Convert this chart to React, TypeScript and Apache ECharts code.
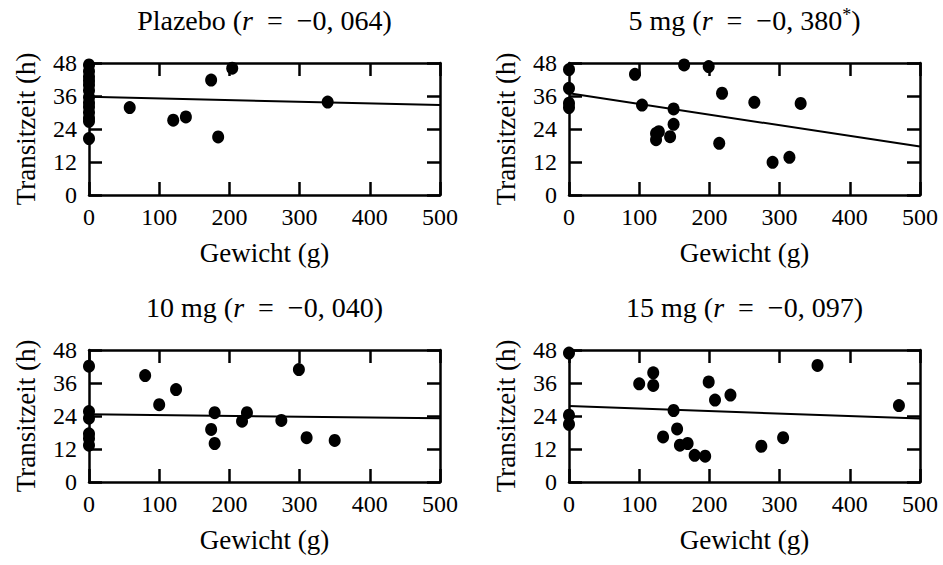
import React, { useEffect, useRef } from "react";
import * as echarts from "echarts";

const FONT = "Liberation Serif";

const panelNames = ["Plazebo", "5 mg", "10 mg", "15 mg"];
const rValues = ["−0, 064", "−0, 380", "−0, 040", "−0, 097"];
const significant = [false, true, false, false];

const xAxisName = "Gewicht (g)";
const yAxisName = "Transitzeit (h)";
const xMin = 0, xMax = 500, xStep = 100;
const yMin = 0, yMax = 48, yStep = 12;

const plazeboPoints: number[][] = [
  [0, 47.3], [0, 45], [0, 43], [0, 41.5], [0, 40], [0, 38], [0, 35.5], [0, 33.5],
  [0, 32], [0, 30], [0, 28], [0, 26.8], [0, 20.5],
  [58, 31.8], [120, 27.2], [138, 28.4], [174, 41.8], [184, 21.1], [204, 46.1], [340, 33.8],
];
const mg5Points: number[][] = [
  [0, 45.6], [0, 38.8], [0, 33.4], [0, 31.8],
  [94, 43.9], [104, 32.7], [124, 22.4], [124, 20.1], [128, 23.0], [144, 21.2],
  [149, 31.3], [149, 25.7], [164, 47.3], [199, 46.7], [214, 18.8], [218, 37.0],
  [264, 33.7], [290, 11.9], [314, 13.7], [330, 33.3],
];
const mg10Points: number[][] = [
  [0, 42.1], [0, 25.6], [0, 23.2], [0, 17.5], [0, 15.8], [0, 13.4],
  [80, 38.7], [100, 28.1], [124, 33.6], [174, 19.1], [179, 25.2], [179, 14.0],
  [218, 22.1], [225, 25.2], [274, 22.4], [299, 40.9], [310, 16.1], [350, 15.1],
];
const mg15Points: number[][] = [
  [0, 46.9], [0, 24.3], [0, 21.0],
  [100, 35.7], [120, 39.7], [120, 35.1], [134, 16.4], [149, 26.0], [154, 19.3],
  [158, 13.4], [169, 14.0], [179, 9.7], [194, 9.4], [199, 36.4], [208, 29.8],
  [230, 31.6], [274, 13.0], [305, 16.1], [354, 42.4], [470, 27.8],
];
const allPoints = [plazeboPoints, mg5Points, mg10Points, mg15Points];

const fitPlazebo = [[0, 35.7], [500, 32.7]];
const fit5 = [[0, 37.0], [500, 17.6]];
const fit10 = [[0, 24.6], [500, 23.2]];
const fit15 = [[0, 27.6], [500, 23.1]];
const allFits = [fitPlazebo, fit5, fit10, fit15];

export default function App() {
  const ref = useRef<HTMLDivElement>(null);
  useEffect(() => {
    if (!ref.current) return;
    const chart = echarts.init(ref.current, undefined, { renderer: "svg" });
    const lefts = [89, 569, 89, 569];
    const tops = [63, 63, 350, 350];
    const W = 351, H = 132;
    const grids: any[] = [];
    const xAxes: any[] = [];
    const yAxes: any[] = [];
    const series: any[] = [];
    const titles: any[] = [];
    const line = { show: true, onZero: false, lineStyle: { color: "#000", width: 2.5 } };
    const tick = { show: true, inside: true, length: 13, lineStyle: { color: "#000", width: 2.5 } };
    for (let i = 0; i < 4; i++) {
      grids.push({ left: lefts[i], top: tops[i], width: W, height: H });
      xAxes.push({
        type: "value", gridIndex: i, position: "bottom", min: xMin, max: xMax, interval: xStep,
        axisLine: line, axisTick: tick, splitLine: { show: false },
        axisLabel: { color: "#000", fontFamily: FONT, fontSize: 24, margin: 10 },
        name: xAxisName, nameLocation: "middle", nameGap: 44,
        nameTextStyle: { color: "#000", fontFamily: FONT, fontSize: 27 },
      });
      xAxes.push({
        type: "value", gridIndex: i, position: "top", min: xMin, max: xMax, interval: xStep,
        axisLine: line, axisTick: tick, splitLine: { show: false }, axisLabel: { show: false },
      });
      yAxes.push({
        type: "value", gridIndex: i, position: "left", min: yMin, max: yMax, interval: yStep,
        axisLine: line, axisTick: tick, splitLine: { show: false },
        axisLabel: { color: "#000", fontFamily: FONT, fontSize: 24, margin: 12 },
        name: yAxisName, nameLocation: "middle", nameGap: 50,
        nameTextStyle: { color: "#000", fontFamily: FONT, fontSize: 27 },
      });
      yAxes.push({
        type: "value", gridIndex: i, position: "right", min: yMin, max: yMax, interval: yStep,
        axisLine: line, axisTick: tick, splitLine: { show: false }, axisLabel: { show: false },
      });
      series.push({
        type: "scatter", xAxisIndex: 2 * i, yAxisIndex: 2 * i, data: allPoints[i],
        symbol: "circle", symbolSize: [12, 13], clip: false,
        itemStyle: { color: "#000", opacity: 1 }, z: 3,
      });
      series.push({
        type: "line", xAxisIndex: 2 * i, yAxisIndex: 2 * i, data: allFits[i],
        symbol: "none", lineStyle: { color: "#000", width: 2 }, z: 2,
      });
      const star = significant[i] ? "{s|*}" : "";
      titles.push({
        text: `{n|${panelNames[i]} (}{i|r}{n|\u2002=\u2002${rValues[i]}}${star}{n|)}`,
        left: lefts[i] + W / 2, top: tops[i] - 57, textAlign: "center", padding: 0,
        textStyle: {
          fontWeight: "normal",
          rich: {
            n: { fontFamily: FONT, fontSize: 28, fontWeight: "normal", color: "#000" },
            i: { fontFamily: FONT, fontSize: 28, fontWeight: "normal", fontStyle: "italic", color: "#000" },
            s: { fontFamily: FONT, fontSize: 18, fontWeight: "normal", color: "#000", verticalAlign: "top" },
          },
        },
      });
    }
    chart.setOption({
      animation: false,
      backgroundColor: "#fff",
      title: titles,
      grid: grids,
      xAxis: xAxes,
      yAxis: yAxes,
      series,
    });
    return () => chart.dispose();
  }, []);
  return <div ref={ref} style={{ width: 943, height: 565, position: "absolute", left: 0, top: 0 }} />;
}
